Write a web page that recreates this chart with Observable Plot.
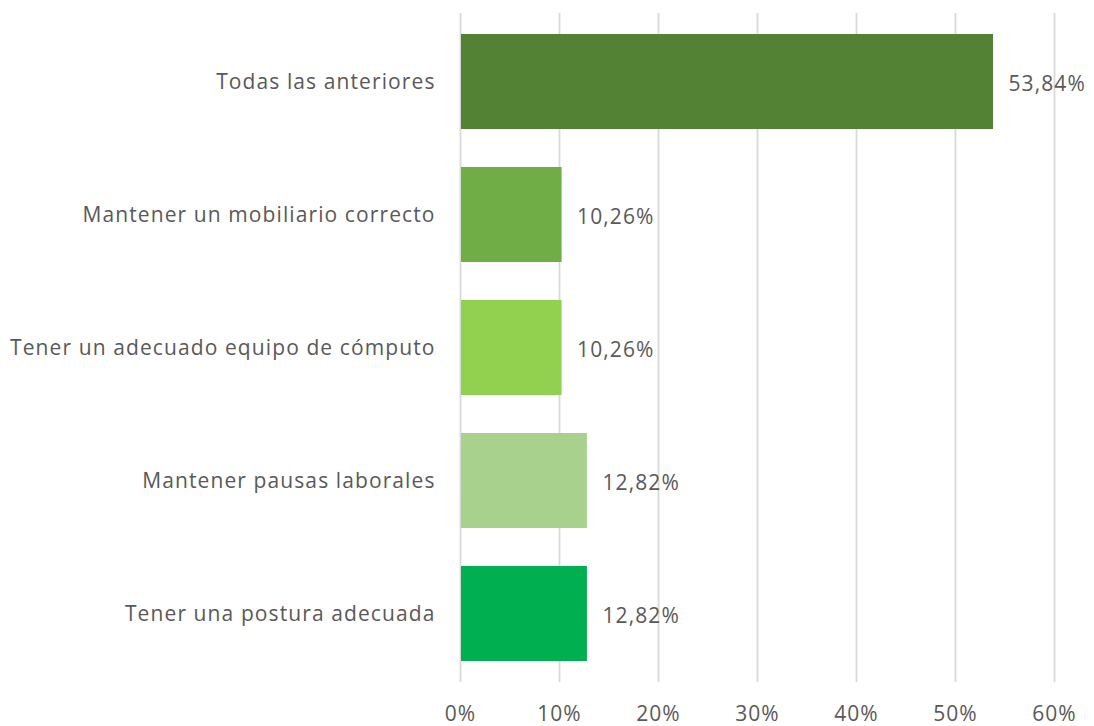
<!DOCTYPE html>
<html>
<head>
<meta charset="utf-8">
<script src="https://cdn.jsdelivr.net/npm/d3@7"></script>
<script src="https://cdn.jsdelivr.net/npm/@observablehq/plot@0.6"></script>
<style>
  html, body { margin: 0; padding: 0; background: #fff; }
  #chart { width: 1094px; height: 726px; }
  #chart svg text { letter-spacing: 1.1px; }
</style>
</head>
<body>
<div id="chart"></div>
<script>
const categories = [
  "Todas las anteriores",
  "Mantener un mobiliario correcto",
  "Tener un adecuado equipo de cómputo",
  "Mantener pausas laborales",
  "Tener una postura adecuada"
];
const values = [53.84, 10.26, 10.26, 12.82, 12.82];
const colors = ["#548235", "#70AD47", "#92D050", "#A9D18E", "#00B050"];
const xTicks = [0, 10, 20, 30, 40, 50, 60];

const data = categories.map((c, i) => ({category: c, value: values[i], color: colors[i]}));
const fmt = v => v.toFixed(2).replace(".", ",") + "%";
const textColor = "#595959";
const font = "Open Sans, sans-serif";
const fs = 21;

const chart = Plot.plot({
  width: 1094,
  height: 726,
  marginLeft: 460,
  marginRight: 40,
  marginTop: 13,
  marginBottom: 44,
  style: {fontFamily: font, background: "#fff"},
  x: {domain: [0, 60], ticks: xTicks},
  y: {domain: categories, paddingInner: 0.287, paddingOuter: 0.14},
  marks: [
    Plot.ruleX(xTicks, {stroke: "#d9d9d9", strokeWidth: 1.8}),
    Plot.barX(data, {y: "category", x: "value", fill: "color", insetLeft: 1}),
    Plot.text(data, {y: "category", x: "value", text: d => fmt(d.value), textAnchor: "start", dx: 15, dy: 2, fill: textColor, fontSize: fs}),
    Plot.axisX({ticks: xTicks, tickSize: 0, tickPadding: 24, tickFormat: d => d + "%", fontSize: fs, color: textColor, stroke: null, label: null}),
    Plot.axisY({tickSize: 0, tickPadding: 25, fontSize: fs, color: textColor, label: null})
  ]
});
document.getElementById("chart").appendChild(chart);
</script>
</body>
</html>
